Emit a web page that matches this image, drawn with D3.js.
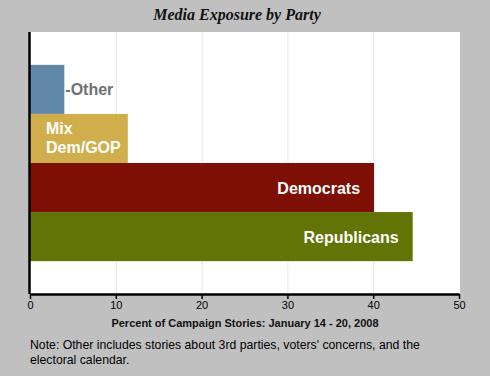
<!DOCTYPE html>
<html>
<head>
  <style>
    body { margin: 0; background: #c0c0c0; }
    svg { display: block; font-family: "Liberation Sans", Arial, sans-serif; }
  </style>
  <script src="https://d3js.org/d3.v7.min.js"></script>
</head>
<body>
  <svg id="chart" width="490" height="376"></svg>
  <script>
    // data
    const parties = ['Other', 'Mix', 'Democrats', 'Republicans'];
    const shares = [4.0, 11.4, 40.1, 44.6];
    const colors = ['#5f88a9', '#cfae4b', '#7d0f05', '#617405'];
    const xTicks = [0, 10, 20, 30, 40, 50];

    const svg = d3.select('#chart');
    const plotL = 30, plotR = 459, plotT = 32, plotB = 294;

    const x = d3.scaleLinear().domain([0, 50]).range([plotL, plotR]);
    const y = d3.scaleBand().domain(parties).range([plotT, plotB])
      .paddingInner(0).paddingOuter(0.67);

    svg.append('text')
      .attr('x', 237).attr('y', 20)
      .attr('text-anchor', 'middle')
      .style('font-family', '"Liberation Serif", "Times New Roman", serif')
      .style('font-weight', 'bold').style('font-style', 'italic')
      .style('font-size', '16px').attr('fill', '#111')
      .text('Media Exposure by Party');

    // plot background
    svg.append('rect')
      .attr('x', plotL).attr('y', plotT)
      .attr('width', plotR - plotL + 1).attr('height', plotB - plotT)
      .attr('fill', '#fff');

    // grid
    svg.selectAll('.grid')
      .data(xTicks.slice(1, -1))
      .enter().append('line')
      .attr('x1', d => x(d) + 0.5).attr('x2', d => x(d) + 0.5)
      .attr('y1', plotT).attr('y2', plotB)
      .attr('stroke', '#e6e6e6').attr('stroke-width', 1);

    svg.selectAll('.bar')
      .data(parties)
      .enter().append('rect')
      .attr('x', x(0))
      .attr('y', d => y(d))
      .attr('width', (d, i) => x(shares[i]) - x(0))
      .attr('height', y.bandwidth())
      .attr('fill', (d, i) => colors[i]);

    // bar labels
    const lab = svg.append('g').style('font-size', '16px').style('font-weight', 'bold');
    lab.append('text')
      .attr('x', x(shares[0]) + 1).attr('y', y('Other') + y.bandwidth() / 2 + 6)
      .attr('fill', '#707070')
      .text('-Other');
    const mix = lab.append('text')
      .attr('x', 46).attr('y', y('Mix') + 20)
      .attr('fill', '#fff');
    mix.append('tspan').attr('x', 46).text('Mix');
    mix.append('tspan').attr('x', 46).attr('dy', 19).text('Dem/GOP');
    lab.append('text')
      .attr('x', x(shares[2]) - 14).attr('y', y('Democrats') + y.bandwidth() / 2 + 6)
      .attr('text-anchor', 'end').attr('fill', '#fff')
      .text('Democrats');
    lab.append('text')
      .attr('x', x(shares[3]) - 14).attr('y', y('Republicans') + y.bandwidth() / 2 + 6)
      .attr('text-anchor', 'end').attr('fill', '#fff')
      .text('Republicans');

    // axes
    const xAxis = svg.append('g')
      .attr('transform', `translate(0,${plotB})`)
      .call(d3.axisBottom(x).tickValues(xTicks).tickSize(5).tickSizeOuter(0));
    xAxis.select('.domain').attr('stroke', '#000').attr('stroke-width', 2.5);
    xAxis.selectAll('.tick line').attr('stroke', '#000').attr('stroke-width', 1.5);
    xAxis.selectAll('.tick text')
      .attr('y', 7).attr('fill', '#000')
      .style('font-size', '11px').style('font-family', '"Liberation Sans", Arial, sans-serif');

    svg.append('line')
      .attr('x1', plotL - 0.5).attr('x2', plotL - 0.5)
      .attr('y1', plotT).attr('y2', plotB)
      .attr('stroke', '#000').attr('stroke-width', 2.5);

    svg.append('text')
      .attr('x', 245).attr('y', 327)
      .attr('text-anchor', 'middle')
      .style('font-size', '11px').style('font-weight', 'bold')
      .attr('fill', '#111')
      .text('Percent of Campaign Stories: January 14 - 20, 2008');

    const note = svg.append('text')
      .style('font-size', '12.25px').attr('fill', '#000');
    note.append('tspan').attr('x', 30).attr('y', 349)
      .text("Note: Other includes stories about 3rd parties, voters' concerns, and the");
    note.append('tspan').attr('x', 30).attr('y', 364)
      .text('electoral calendar.');
  </script>
</body>
</html>
